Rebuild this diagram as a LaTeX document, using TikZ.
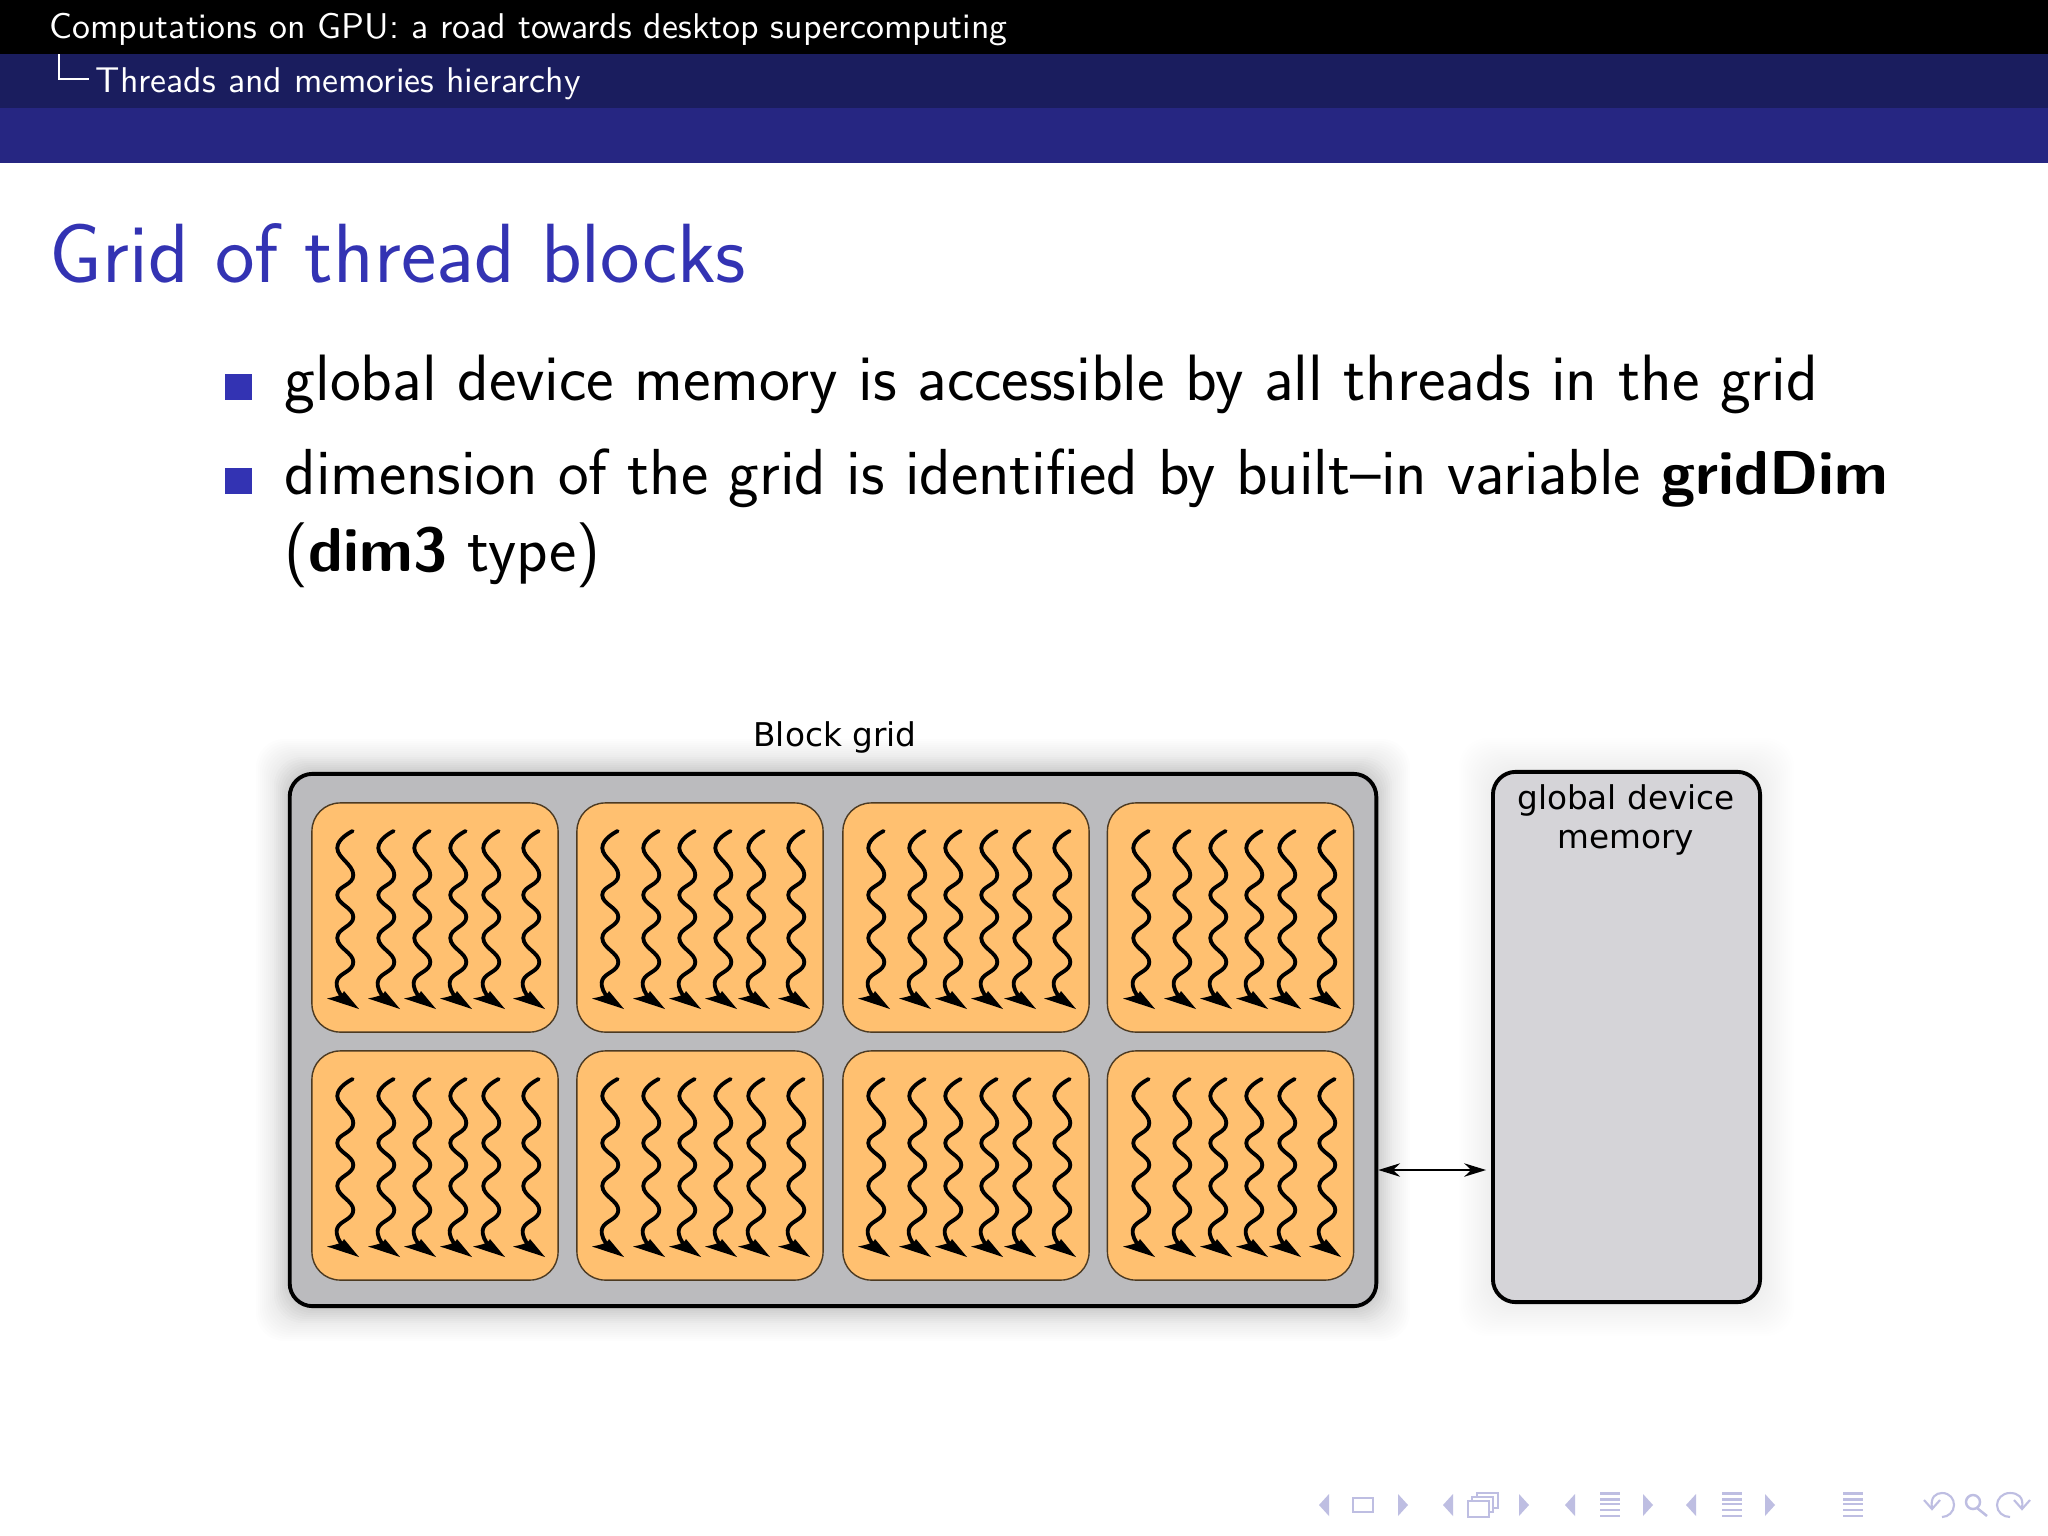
\documentclass[tikz,border=0pt]{standalone}
\usepackage{fontspec}
\usepackage{tikz}
\usetikzlibrary{arrows.meta}
\newfontfamily\labelfont{DejaVu Sans}
\newcommand{\boldword}[1]{{\fontsize{17.65}{22}\selectfont\bfseries #1}}
\definecolor{headblack}{RGB}{0,0,0}
\definecolor{headdark}{RGB}{26,29,94}
\definecolor{headblue}{RGB}{38,38,130}
\definecolor{structblue}{RGB}{51,51,179}
\definecolor{navblue}{RGB}{190,190,226}
\definecolor{gridgray}{RGB}{187,187,190}
\definecolor{memgray}{RGB}{213,212,216}
\definecolor{blockorange}{RGB}{255,192,112}
\tikzset{
    headtext/.style={anchor=base west, text=white, inner sep=0pt, font=\sffamily\fontsize{10.18}{12}\selectfont},
    bodytext/.style={anchor=base west, inner sep=0pt, font=\sffamily\fontsize{18.64}{22}\selectfont},
    bodytwo/.style={bodytext, font=\sffamily\fontsize{18.5}{22}\selectfont},
    gridbox/.style={draw=black, line width=1.1pt, fill=gridgray, rounded corners=6.5pt, minimum width=10.86cm, minimum height=5.32cm},
    membox/.style={draw=black, line width=1.1pt, fill=memgray, rounded corners=6.5pt, minimum width=2.67cm, minimum height=5.30cm},
    blockbox/.style={draw=black!70!blockorange, line width=.4pt, fill=blockorange, rounded corners=8pt, minimum width=2.46cm, minimum height=2.29cm},
    difflabel/.style={inner sep=0pt, align=center, font=\labelfont\fontsize{9.3}{11.2}\selectfont},
    navbar/.style={fill=navblue},
    thread/.pic={
        \draw[line width=1.1pt, line cap=round] plot[smooth, tension=.8] coordinates {(7.7,0) (-7.7,17) (8.3,44) (-7.7,64) (8.3,86) (-7.7,107) (8.3,131) (-7.7,149) (-4,164)};
        \fill (-18,167.5) -- (14,178) -- (-1,160) .. controls (-2,163) and (-5,165) .. (-18,167.5) -- cycle;
    },
    threadrow/.pic={
        \foreach \dx in {33,74,110,146,179,219}
            \pic at (\dx,28) {thread};
    },
    navstack/.pic={
        \foreach \ypos in {-11.7,-5.7,-1,5,11}
            \fill[navbar] (-10,\ypos-1.4) rectangle (10,\ypos+1.4);
    }
}
\begin{document}
\begin{tikzpicture}[x=0.01cm,y=-0.01cm]
    \useasboundingbox (0,0) rectangle (2048,1536);
    % header strips
    \fill[white] (0,0) rectangle (2048,1536);
    \fill[headblack] (0,0) rectangle (2048,54);
    \fill[headdark] (0,54) rectangle (2048,108);
    \fill[headblue] (0,108) rectangle (2048,163);
    \node[headtext] (headone) at (49,38) {Computations on GPU: a road towards desktop supercomputing};
    \node[headtext] (headtwo) at (95,92) {Threads and memories hierarchy};
    \draw[white, line width=.4pt] (59,54) -- (59,79) -- (89,79);
    % title and bullets
    \node[anchor=base west, inner sep=0pt, text=structblue, font=\sffamily\fontsize{23.9}{28}\selectfont] (title) at (49,282) {Grid of thread blocks};
    \fill[structblue] (225,374) rectangle (252,400);
    \fill[structblue] (225,468) rectangle (252,494);
    \node[bodytext] (itemone) at (284,400) {global device memory is accessible by all threads in the grid};
    \node[bodytwo] (itemtwo) at (284,494) {dimension of the grid is identified by built--in variable \boldword{gridDim}};
    \node[bodytwo] (itemthree) at (284,571) {(\boldword{dim3} type)};
    % soft shadows
    \foreach \s in {2,4,...,34} {
        \fill[black, opacity=.006, rounded corners=8pt] (290-\s,773-\s) rectangle (1376+\s,1307+\s);
        \fill[black, opacity=.004, rounded corners=8pt] (1493-\s,772-\s) rectangle (1760+\s,1302+\s);
    }
    \foreach \s in {2,4,...,16}
        \fill[black, opacity=.008, rounded corners=8pt] (290-\s,773-\s) rectangle (1376+\s,1307+\s);
    % boxes
    \node[gridbox] (grid) at (833,1040) {};
    \node[membox] (mem) at (1626.5,1037) {};
    \node[difflabel] (gridlabel) at (835,737) {Block grid};
    \node[difflabel] (memlabel) at (1626,820) {global device\\memory};
    \node[blockbox] (b11) at (435,917.5) {};
    \node[blockbox] (b12) at (700,917.5) {};
    \node[blockbox] (b13) at (966,917.5) {};
    \node[blockbox] (b14) at (1230.5,917.5) {};
    \node[blockbox] (b21) at (435,1165.5) {};
    \node[blockbox] (b22) at (700,1165.5) {};
    \node[blockbox] (b23) at (966,1165.5) {};
    \node[blockbox] (b24) at (1230.5,1165.5) {};
    % threads
    \foreach \bx in {312,577,843,1108}
        \foreach \by in {803,1051}
            \pic at (\bx,\by) {threadrow};
    % link to memory
    \coordinate (port) at (1430,1170);
    \draw[{Stealth[length=6.2pt,width=3.8pt,inset=2pt]}-{Stealth[length=6.2pt,width=3.8pt,inset=2pt]}, line width=.6pt, shorten >=1.4pt] (grid.east |- port) -- (mem.west |- port);
    % navigation symbols
    \foreach \tx in {1324,1448,1570,1691} \fill[navbar] (\tx+5,1494) -- (\tx+5,1516) -- (\tx-5,1505) -- cycle;
    \foreach \tx in {1403,1524,1648,1770} \fill[navbar] (\tx-5,1494) -- (\tx-5,1516) -- (\tx+5,1505) -- cycle;
    \draw[navblue, line width=.6pt] (1353,1498) rectangle (1373,1512);
    \draw[navblue, line width=.5pt] (1477,1493) rectangle (1498,1508);
    \draw[navblue, line width=.5pt, fill=white] (1472,1497) rectangle (1493,1512);
    \draw[navblue, line width=.6pt, fill=white] (1468,1501) rectangle (1489,1517);
    \pic at (1610,1505) {navstack};
    \pic at (1732,1505) {navstack};
    \pic at (1853,1505) {navstack};
    \draw[navblue, line width=.6pt] (1932,1508) .. controls (1930,1497) and (1936,1493) .. (1942,1493) .. controls (1950,1493) and (1954,1499) .. (1954,1505) .. controls (1954,1512) and (1948,1517) .. (1942,1517);
    \draw[navblue, line width=.6pt] (1924,1500) -- (1932,1509) -- (1940,1500);
    \draw[navblue, line width=.7pt] (1973,1502) circle[radius=7] (1977,1508) -- (1987,1516);
    \draw[navblue, line width=.6pt] (2022,1508) .. controls (2024,1497) and (2018,1493) .. (2010,1493) .. controls (2002,1493) and (1997,1499) .. (1997,1505) .. controls (1997,1512) and (2003,1517) .. (2010,1517);
    \draw[navblue, line width=.6pt] (2014,1500) -- (2022,1509) -- (2030,1500);
\end{tikzpicture}
\end{document}
